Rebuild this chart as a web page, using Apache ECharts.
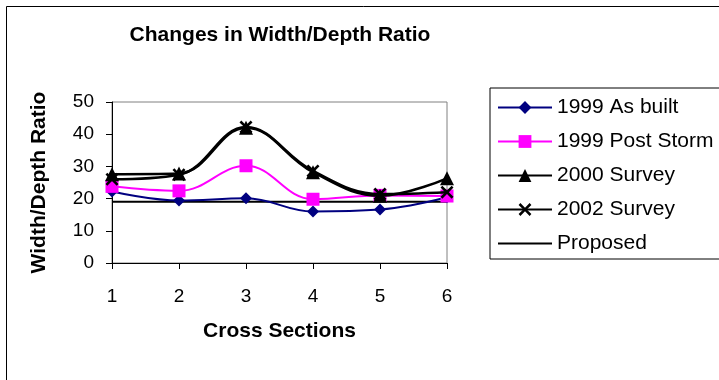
<!DOCTYPE html>
<html>
<head>
<meta charset="utf-8">
<script src="https://cdn.jsdelivr.net/npm/echarts@6/dist/echarts.min.js"></script>
<style>
  html, body { margin: 0; padding: 0; background: #fff; }
  #chart { width: 719px; height: 380px; }
</style>
</head>
<body>
<div id="chart"></div>
<script>
  // cross section numbers
  var sections = ['1', '2', '3', '4', '5', '6'];

  // width/depth ratios
  var asBuilt1999 = [22.2, 19.4, 20.1, 16.0, 16.6, 20.4];
  var postStorm1999 = [23.8, 22.4, 30.2, 19.8, 21.0, 20.8];
  var survey2000 = [27.6, 27.8, 42.0, 28.2, 20.9, 26.3];
  var survey2002 = [26.0, 27.4, 42.2, 28.6, 21.4, 22.0];
  var proposed = [19.0, 19.0, 19.0, 19.0, 19.0, 19.0];

  var font = 'Liberation Sans, Arial, sans-serif';
  var xMark = 'path://M0,1.4 L1.4,0 L5,3.6 L8.6,0 L10,1.4 L6.4,5 L10,8.6 L8.6,10 L5,6.4 L1.4,10 L0,8.6 L3.6,5 Z';

  var chart = echarts.init(document.getElementById('chart'));

  var option = {
    animation: false,
    backgroundColor: '#fff',
    textStyle: { fontFamily: font, color: '#000' },
    title: {
      text: 'Changes in Width/Depth Ratio',
      left: 275,
      textAlign: 'center',
      top: 20,
      textStyle: { fontFamily: font, fontSize: 21, fontWeight: 'bold', color: '#000' }
    },
    graphic: [{
      type: 'rect',
      shape: { x: 6.5, y: 6.5, width: 800, height: 500 },
      style: { fill: 'none', stroke: '#000', lineWidth: 1 },
      silent: true
    }],
    legend: {
      orient: 'vertical',
      left: 490,
      top: 88,
      itemWidth: 54,
      itemHeight: 16,
      itemGap: 13,
      padding: [9, 60, 5, 7],
      borderColor: '#000',
      borderWidth: 1,
      textStyle: { fontFamily: font, fontSize: 21, color: '#000' },
      data: [
        '1999 As built', '1999 Post Storm', '2000 Survey', '2002 Survey',
        { name: 'Proposed', itemStyle: { opacity: 0 } }
      ]
    },
    grid: {
      left: 112,
      right: 272,
      top: 102,
      bottom: 117,
      show: true,
      borderColor: '#808080',
      borderWidth: 1,
      backgroundColor: 'transparent'
    },
    xAxis: {
      type: 'category',
      data: sections,
      boundaryGap: false,
      name: 'Cross Sections',
      nameLocation: 'middle',
      nameGap: 58,
      nameTextStyle: { fontFamily: font, fontSize: 21, fontWeight: 'bold', color: '#000' },
      axisLine: { lineStyle: { color: '#000', width: 1 } },
      axisTick: { show: true, length: 6, inside: false, lineStyle: { color: '#000' } },
      axisLabel: { fontFamily: font, fontSize: 19, color: '#000', margin: 24 },
      splitLine: { show: false }
    },
    yAxis: {
      type: 'value',
      min: 0,
      max: 50,
      interval: 10,
      name: 'Width/Depth Ratio',
      nameLocation: 'middle',
      nameGap: 62,
      nameTextStyle: { fontFamily: font, fontSize: 21, fontWeight: 'bold', color: '#000' },
      axisLine: { show: true, lineStyle: { color: '#000', width: 1 } },
      axisTick: { show: true, length: 6, lineStyle: { color: '#000' } },
      axisLabel: { fontFamily: font, fontSize: 19, color: '#000', margin: 18 },
      splitLine: { show: false }
    },
    series: [
      {
        name: 'Proposed',
        type: 'line',
        data: proposed,
        showSymbol: false,
        symbol: 'none',
        lineStyle: { color: '#000', width: 2 },
        itemStyle: { color: '#000' },
        z: 1
      },
      {
        name: '1999 As built',
        type: 'line',
        data: asBuilt1999,
        smooth: 0.4,
        symbol: 'diamond',
        symbolSize: 12,
        lineStyle: { color: '#000080', width: 2 },
        itemStyle: { color: '#000080' },
        z: 2
      },
      {
        name: '1999 Post Storm',
        type: 'line',
        data: postStorm1999,
        smooth: 0.4,
        symbol: 'rect',
        symbolSize: 13,
        lineStyle: { color: '#ff00ff', width: 2 },
        itemStyle: { color: '#ff00ff' },
        z: 3
      },
      {
        name: '2002 Survey',
        type: 'line',
        data: survey2002,
        smooth: 0.4,
        symbol: xMark,
        symbolSize: 13,
        lineStyle: { color: '#000', width: 2.5 },
        itemStyle: { color: '#000' },
        z: 4
      },
      {
        name: '2000 Survey',
        type: 'line',
        data: survey2000,
        smooth: 0.4,
        symbol: 'triangle',
        symbolSize: 14,
        lineStyle: { color: '#000', width: 2.5 },
        itemStyle: { color: '#000' },
        z: 5
      }
    ]
  };

  chart.setOption(option);
  window.addEventListener('resize', chart.resize);
</script>
</body>
</html>
